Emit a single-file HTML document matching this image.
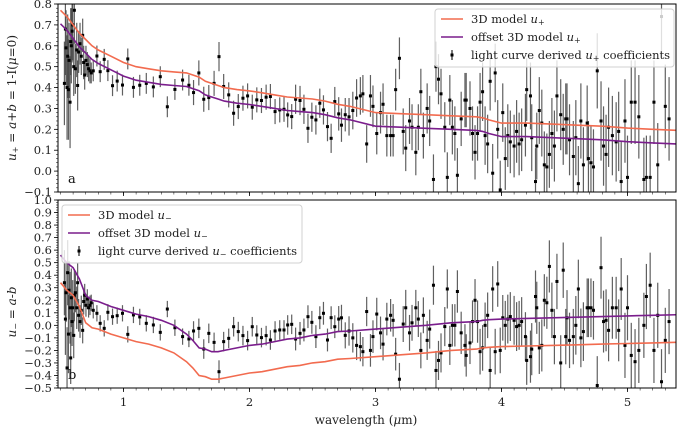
<!DOCTYPE html>
<html><head><meta charset="utf-8"><style>
body{margin:0;background:#fff}
svg{display:block;font-family:"DejaVu Serif","Liberation Serif",serif}
</style></head><body>
<svg id="chart" width="677" height="430" viewBox="0 0 677 430" xmlns="http://www.w3.org/2000/svg">
<defs>
<clipPath id="clipTop"><rect x="58" y="4" width="618" height="188"/></clipPath>
<clipPath id="clipBot"><rect x="58" y="200" width="618" height="188"/></clipPath>
</defs>
<g id="panelTop"></g>
<g id="panelBot"></g>
</svg>
<script>
// ---- data ----
const wavelengths = [
0.531,0.539,0.544,0.552,0.557,0.563,0.568,0.576,0.581,0.586,0.592,0.597,0.605,0.610,0.618,0.629,0.636,0.644,0.655,0.665,0.676,0.684,0.692,0.702,0.713,0.723,0.734,0.744,0.760,
0.789,0.815,0.847,0.876,0.913,0.95,0.992,1.034,1.079,1.129,1.181,1.237,1.292,1.348,1.408,1.469,1.519,1.556,1.598,1.637,1.677,1.719,1.758,1.795,1.835,1.874,1.911,1.948,1.985,2.022,2.058,2.095,2.132,2.166,2.203,2.240,2.274,2.303,2.335,2.366,2.401,2.432,2.464,2.495,2.527,2.558,2.587,2.619,2.648,2.677,2.708,
2.73,2.76,2.79,2.82,2.85,2.88,2.90,2.93,2.96,2.98,
3.01,3.04,3.06,3.09,3.12,3.14,3.16,3.19,3.22,3.24,
3.27,3.29,3.32,3.34,3.36,3.38,3.41,3.43,3.46,3.48,
3.50,3.52,3.55,3.57,3.59,3.61,3.63,3.65,3.68,3.71,
3.72,3.75,3.77,3.79,3.81,3.83,3.85,3.87,3.89,3.91,
3.93,3.95,3.97,3.99,4.01,4.03,4.05,4.07,4.10,4.12,
4.14,4.16,4.19,4.20,4.23,4.24,4.27,4.28,4.30,4.32,
4.34,4.36,4.38,4.40,4.42,4.44,4.47,4.49,4.51,4.52,
4.54,4.57,4.59,4.61,4.63,4.65,4.68,4.69,4.71,4.73,
4.76,4.79,4.81,4.83,4.85,4.88,4.91,4.93,4.95,4.98,
5.00,5.03,5.06,5.09,5.13,5.15,5.18,5.21,5.24,5.27,
5.30,5.33];
const uPlus = [
0.42,0.68,0.59,0.40,0.55,0.39,0.53,0.33,0.62,0.60,0.67,0.70,0.50,0.77,0.49,0.58,0.41,0.57,0.61,0.55,0.65,0.52,0.46,0.53,0.51,0.49,0.48,0.47,0.48,
0.551,0.476,0.535,0.481,0.409,0.431,0.412,0.537,0.401,0.411,0.42,0.403,0.452,0.308,0.391,0.436,0.411,0.376,0.470,0.344,0.352,0.42,0.548,0.405,0.365,0.277,0.309,0.349,0.36,0.306,0.341,0.338,0.354,0.357,0.285,0.293,0.296,0.269,0.261,0.344,0.338,0.296,0.205,0.258,0.245,0.325,0.293,0.213,0.157,0.333,0.274,
0.22,0.27,0.26,0.29,0.35,0.36,0.37,0.13,0.36,0.31,
0.18,0.28,0.32,0.17,0.17,0.17,0.39,0.54,0.19,0.11,
0.24,0.21,0.09,0.21,0.38,0.17,0.30,0.24,-0.04,0.50,
0.44,0.37,0.21,-0.03,0.34,0.21,0.18,-0.02,0.25,0.34,
0.34,0.30,0.18,0.09,0.18,0.33,0.38,0.17,0.13,0.43,
-0.01,0.47,0.20,-0.09,0.28,0.06,0.17,0.14,0.12,0.19,
0.13,0.15,0.22,0.39,0.36,0.16,-0.05,0.12,0.29,0.23,
0.03,0.02,0.08,0.18,0.12,0.36,0.27,0.20,0.25,0.25,
0.15,0.07,0.16,-0.06,0.24,0.03,0.23,0.06,0.04,0.02,
0.48,0.24,0.12,0.08,0.21,0.17,0.14,0.19,-0.05,0.24,
-0.03,0.33,0.33,0.26,-0.04,-0.03,-0.03,0.33,0.03,0.74,
0.31,0.25];
const uMinus = [
0.34,0.05,0.26,-0.34,0.42,-0.07,0.28,0.14,-0.26,0.22,0.03,0.14,-0.08,0.24,0.26,0.14,0.34,0.08,0.03,0.12,-0.04,0.19,0.24,0.16,0.21,0.14,0.16,0.18,0.12,
0.096,0.016,-0.024,0.104,0.069,0.077,0.096,-0.072,0.083,0.067,0.016,0.003,-0.056,0.13,-0.019,-0.09,-0.109,-0.045,-0.024,-0.189,-0.064,-0.136,-0.37,-0.13,-0.104,-0.011,-0.05,-0.082,-0.122,-0.011,-0.077,-0.098,-0.082,-0.117,-0.045,-0.037,-0.037,0.003,0.008,-0.109,-0.064,-0.037,0.069,0.024,-0.09,0.061,0.096,-0.117,0.061,-0.011,0.05,
0.06,-0.08,-0.045,-0.10,-0.16,-0.17,-0.21,0.11,-0.20,-0.09,
0.09,-0.06,-0.15,0.05,0.08,0.04,-0.23,-0.43,0.01,0.14,
-0.06,0.02,0.14,0.05,-0.20,0.08,-0.12,-0.03,0.32,-0.36,
-0.28,-0.22,-0.01,0.29,-0.16,0.00,0.00,0.27,-0.06,-0.16,
-0.24,-0.14,0.03,0.20,0.03,-0.21,-0.18,0.00,0.08,-0.36,
0.29,-0.21,0.33,-0.20,0.06,0.00,0.05,0.07,0.04,-0.01,
0.00,0.03,-0.09,-0.28,-0.25,-0.19,0.23,0.14,-0.18,-0.16,
0.20,0.18,0.47,0.12,-0.09,0.35,-0.30,0.44,-0.09,0.06,
-0.12,-0.09,0.00,0.29,-0.10,-0.05,0.14,0.14,0.14,0.12,
-0.48,0.46,0.03,0.04,-0.04,0.14,0.14,-0.04,0.29,-0.16,
0.14,-0.24,-0.29,-0.20,0.00,0.23,0.32,-0.20,0.08,-0.45,
-0.12,0.03];
const errors = [
0.20,0.22,0.18,0.25,0.20,0.24,0.18,0.22,0.16,0.18,0.15,0.17,0.14,0.16,0.12,0.13,0.12,0.10,0.10,0.09,0.08,0.08,0.07,0.07,0.06,0.06,0.06,0.05,0.05,
0.05,0.05,0.05,0.05,0.05,0.05,0.05,0.05,0.05,0.05,0.05,0.05,0.05,0.05,0.05,0.05,0.05,0.06,0.06,0.06,0.06,0.06,0.07,0.06,0.06,0.06,0.06,0.06,0.06,0.06,0.06,0.06,0.06,0.06,0.06,0.06,0.06,0.06,0.06,0.07,0.07,0.07,0.07,0.07,0.07,0.07,0.07,0.07,0.07,0.07,0.08,
0.08,0.08,0.09,0.09,0.09,0.09,0.09,0.09,0.10,0.10,
0.10,0.10,0.10,0.10,0.10,0.10,0.10,0.10,0.11,0.11,
0.11,0.11,0.11,0.11,0.11,0.11,0.12,0.12,0.12,0.12,
0.12,0.12,0.12,0.12,0.12,0.13,0.13,0.13,0.13,0.13,
0.13,0.13,0.13,0.13,0.13,0.14,0.14,0.14,0.14,0.14,
0.14,0.14,0.14,0.14,0.14,0.15,0.15,0.15,0.15,0.15,
0.15,0.15,0.15,0.15,0.16,0.16,0.16,0.16,0.16,0.16,
0.16,0.16,0.16,0.17,0.17,0.17,0.17,0.17,0.17,0.17,
0.17,0.17,0.18,0.18,0.18,0.18,0.18,0.18,0.18,0.18,
0.18,0.19,0.19,0.19,0.19,0.19,0.19,0.19,0.19,0.20,
0.20,0.20,0.20,0.20,0.20,0.20,0.20,0.20,0.20,0.20,
0.20,0.20];
const errScaleMinus = 1.3;
const modelWavelengths = [0.5,0.55,0.6,0.65,0.7,0.75,0.8,0.9,1.0,1.1,1.2,1.3,1.4,1.5,1.55,1.6,1.65,1.7,1.75,1.8,1.9,2.0,2.1,2.2,2.3,2.4,2.5,2.6,2.7,2.8,3.0,3.2,3.4,3.6,3.8,3.85,3.9,4.0,4.2,4.4,4.6,4.8,5.0,5.2,5.4];
const modelUPlus = [0.77,0.74,0.70,0.66,0.63,0.60,0.58,0.55,0.52,0.50,0.49,0.48,0.475,0.47,0.46,0.45,0.43,0.42,0.41,0.40,0.39,0.384,0.375,0.365,0.355,0.35,0.345,0.335,0.32,0.31,0.28,0.275,0.27,0.265,0.26,0.255,0.245,0.23,0.23,0.225,0.22,0.215,0.206,0.20,0.195];
const modelUMinus = [0.34,0.28,0.24,0.15,0.02,-0.02,-0.03,-0.07,-0.10,-0.13,-0.15,-0.18,-0.22,-0.29,-0.34,-0.40,-0.41,-0.43,-0.43,-0.42,-0.40,-0.38,-0.37,-0.35,-0.33,-0.32,-0.30,-0.29,-0.27,-0.265,-0.25,-0.235,-0.22,-0.20,-0.19,-0.18,-0.175,-0.17,-0.165,-0.16,-0.155,-0.15,-0.145,-0.14,-0.135];
const offsetPlus = -0.065;
const offsetMinus = 0.22;
const xTicks = [1,2,3,4,5];
const yTicksTop = [0.8,0.7,0.6,0.5,0.4,0.3,0.2,0.1,0.0,-0.1];
const yTicksBot = [1.0,0.9,0.8,0.7,0.6,0.5,0.4,0.3,0.2,0.1,0.0,-0.1,-0.2,-0.3,-0.4,-0.5];

// ---- layout ----
const SVGNS = 'http://www.w3.org/2000/svg';
const X0 = 58, X1 = 676;
const xMin = 0.5 - 0.0198, xMax = 5.385;
function xs(w){ return X0 + (w - xMin) / (xMax - xMin) * (X1 - X0); }
function mk(tag, attrs, parent){ const e = document.createElementNS(SVGNS, tag); for (const k in attrs) e.setAttribute(k, attrs[k]); parent.appendChild(e); return e; }
const ORANGE = '#f26b4f', PURPLE = '#7a1d8c';

function drawPanel(g, yTop, yBot, yMin, yMax, ticks, vals, errScale, model, offset, clip, letter, showXLabels){
  const ys = v => yBot - (v - yMin) / (yMax - yMin) * (yBot - yTop);
  ticks.forEach(t => {
    const y = ys(t);
    const tk = mk('line', {x1: X0-4, x2: X0, y1: y, y2: y, stroke: '#000', 'stroke-width': 0.8}, g);
    
    
    const tx = mk('text', {x: X0-6, y: y+4, 'text-anchor': 'end', 'font-size': 11.5, fill: '#222'}, g);
    tx.textContent = (t < 0 ? '\u2212' + Math.abs(t).toFixed(1) : t.toFixed(1));
    
    
  });
  for (let v = yMin; v <= yMax + 1e-9; v += 0.02) {
    const y = ys(v);
    const m = mk('line', {x1: X0-2, x2: X0, y1: y, y2: y, stroke: '#000', 'stroke-width': 0.5}, g);
    
    
  }
  xTicks.forEach(t => {
    const x = xs(t);
    const tk = mk('line', {x1: x, x2: x, y1: yBot, y2: yBot+4, stroke: '#000', 'stroke-width': 0.8}, g);
    
    
    if (showXLabels) {
      const tx = mk('text', {x: x, y: yBot+18, 'text-anchor': 'middle', 'font-size': 11.5, fill: '#222'}, g);
      tx.textContent = String(t);
      
      
    }
  });
  for (let w = 0.5; w <= xMax; w += 0.1) {
    const x = xs(w);
    const m = mk('line', {x1: x, x2: x, y1: yBot, y2: yBot+2.5, stroke: '#000', 'stroke-width': 0.5}, g);
    
    
  }
  const plot = mk('g', {'clip-path': 'url(#' + clip + ')'}, g);
  
  
  wavelengths.forEach((w, i) => {
    const x = xs(w), e = errors[i] * errScale;
    const bar = mk('line', {x1: x, x2: x, y1: ys(vals[i]-e), y2: ys(vals[i]+e), stroke: '#444', 'stroke-width': 1.2, 'stroke-opacity': 0.85}, plot);
    
    
  });
  wavelengths.forEach((w, i) => {
    const p = mk('rect', {x: xs(w)-1.5, y: ys(vals[i])-1.5, width: 3, height: 3, fill: '#000'}, plot);
    
    
  });
  const d1 = modelWavelengths.map((w, i) => (i ? 'L' : 'M') + xs(w).toFixed(1) + ' ' + ys(model[i]).toFixed(1)).join(' ');
  const d2 = modelWavelengths.map((w, i) => (i ? 'L' : 'M') + xs(w).toFixed(1) + ' ' + ys(model[i] + offset).toFixed(1)).join(' ');
  const l1 = mk('path', {d: d1, fill: 'none', stroke: ORANGE, 'stroke-width': 1.6}, plot);
  
  
  const l2 = mk('path', {d: d2, fill: 'none', stroke: PURPLE, 'stroke-width': 1.6}, plot);
  
  
  const fr = mk('rect', {x: X0, y: yTop, width: X1-X0, height: yBot-yTop, fill: 'none', stroke: '#000', 'stroke-width': 1}, g);
  
  
  const lt = mk('text', {x: 68, y: yBot-9, 'font-size': 13, fill: '#111'}, g);
  lt.textContent = letter;
  
  
}

const topPanel = document.getElementById('panelTop'), botPanel = document.getElementById('panelBot');
drawPanel(topPanel, 4, 192, -0.1, 0.8, yTicksTop, uPlus, 1, modelUPlus, offsetPlus, 'clipTop', 'a', false);
drawPanel(botPanel, 200, 388, -0.5, 1.0, yTicksBot, uMinus, errScaleMinus, modelUMinus, offsetMinus, 'clipBot', 'b', true);
</script>
<script>
(function(){
  const svg = document.getElementById('chart');
  const NS2 = 'http://www.w3.org/2000/svg';
  function legend(x, y, w, h, sub, g){
    g.innerHTML =
      '<rect x="'+x+'" y="'+y+'" width="'+w+'" height="'+h+'" rx="3" fill="#fff" fill-opacity="0.8" stroke="#d0d0d0"/>' +
      '<line x1="'+(x+6)+'" x2="'+(x+28)+'" y1="'+(y+10)+'" y2="'+(y+10)+'" stroke="#f26b4f" stroke-width="1.6"/>' +
      '<text x="'+(x+36)+'" y="'+(y+14)+'" font-size="11.5" fill="#222">3D model <tspan font-style="italic">u</tspan><tspan font-size="8" dy="2">'+sub+'</tspan></text>' +
      '<line x1="'+(x+6)+'" x2="'+(x+28)+'" y1="'+(y+28)+'" y2="'+(y+28)+'" stroke="#7a1d8c" stroke-width="1.6"/>' +
      '<text x="'+(x+36)+'" y="'+(y+32)+'" font-size="11.5" fill="#222">offset 3D model <tspan font-style="italic">u</tspan><tspan font-size="8" dy="2">'+sub+'</tspan></text>' +
      '<line x1="'+(x+17)+'" x2="'+(x+17)+'" y1="'+(y+41)+'" y2="'+(y+51)+'" stroke="#222" stroke-width="1.2"/>' +
      '<rect x="'+(x+15.5)+'" y="'+(y+44.5)+'" width="3" height="3" fill="#000"/>' +
      '<text x="'+(x+36)+'" y="'+(y+50)+'" font-size="11.5" fill="#222">light curve derived <tspan font-style="italic">u</tspan><tspan font-size="8" dy="2">'+sub+'</tspan><tspan dy="-2"> coefficients</tspan></text>';
  }
  const g1 = document.createElementNS(NS2, 'g');
  
  
  svg.appendChild(g1);
  legend(435, 9, 239, 58, '+', g1);
  const g2 = document.createElementNS(NS2, 'g');
  
  
  svg.appendChild(g2);
  legend(62, 205, 240, 58, '\u2212', g2);

  const t1 = document.createElementNS(NS2, 'text');
  
  
  t1.setAttribute('transform', 'translate(16,98) rotate(-90)');
  t1.setAttribute('text-anchor', 'middle');
  t1.setAttribute('font-size', '12');
  t1.setAttribute('fill', '#222');
  t1.innerHTML = '<tspan font-style="italic">u</tspan><tspan font-size="8" dy="2">+</tspan><tspan dy="-2"> = </tspan><tspan font-style="italic">a</tspan>+<tspan font-style="italic">b</tspan> = 1-I(<tspan font-style="italic">μ</tspan>=0)';
  svg.appendChild(t1);
  const t2 = document.createElementNS(NS2, 'text');
  
  
  t2.setAttribute('transform', 'translate(16,312) rotate(-90)');
  t2.setAttribute('text-anchor', 'middle');
  t2.setAttribute('font-size', '12');
  t2.setAttribute('fill', '#222');
  t2.innerHTML = '<tspan font-style="italic">u</tspan><tspan font-size="8" dy="2">\u2212</tspan><tspan dy="-2"> = </tspan><tspan font-style="italic">a</tspan>-<tspan font-style="italic">b</tspan>';
  svg.appendChild(t2);
  const t3 = document.createElementNS(NS2, 'text');
  
  
  t3.setAttribute('x', '366');
  t3.setAttribute('y', '424');
  t3.setAttribute('text-anchor', 'middle');
  t3.setAttribute('font-size', '12');
  t3.setAttribute('fill', '#222');
  t3.innerHTML = 'wavelength (<tspan font-style="italic">μ</tspan>m)';
  svg.appendChild(t3);
})();
</script>
</body></html>
